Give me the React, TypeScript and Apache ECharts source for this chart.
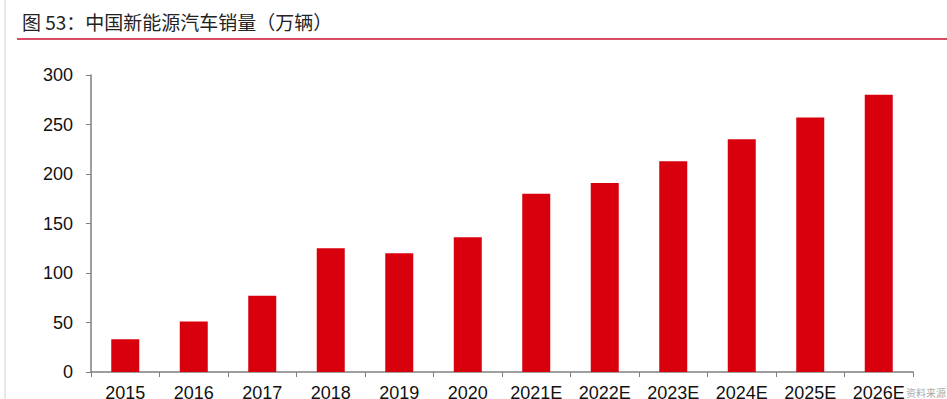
import React, { useEffect, useRef } from "react";
import * as echarts from "echarts";

const categories = ["2015", "2016", "2017", "2018", "2019", "2020", "2021E", "2022E", "2023E", "2024E", "2025E", "2026E"];
const sales = [33, 51, 77, 125, 120, 136, 180, 191, 213, 235, 257, 280];
const yTicks = { min: 0, max: 300, interval: 50 };
const titleText = "图 53：中国新能源汽车销量（万辆）";
const sourceText = "资料来源";

export default function App() {
  const ref = useRef<HTMLDivElement>(null);
  useEffect(() => {
    if (!ref.current) return;
    const chart = echarts.init(ref.current, undefined, { renderer: "svg" });
    chart.setOption({
      animation: false,
      backgroundColor: "#ffffff",
      graphic: [
        { type: "line", shape: { x1: 5, y1: 0, x2: 5, y2: 399 }, style: { stroke: "#d0d0d0", lineWidth: 1 } },
        { type: "line", shape: { x1: 17, y1: 39, x2: 947, y2: 39 }, style: { stroke: "#c8102e", lineWidth: 1.5 } },
        {
          type: "text",
          left: 22,
          top: 12,
          style: { text: titleText, font: "19px 'Noto Sans CJK SC', sans-serif", fill: "#222" },
        },
        {
          type: "text",
          left: 906,
          top: 387,
          style: { text: sourceText, font: "10px 'Noto Sans CJK SC', sans-serif", fill: "#aaa" },
        },
      ],
      grid: { left: 91, right: 34, top: 75, bottom: 27, containLabel: false, outerBoundsMode: "none" },
      xAxis: {
        type: "category",
        data: categories,
        axisLine: { lineStyle: { color: "#7f7f7f", width: 1.5 } },
        axisTick: { show: true, alignWithLabel: false, length: 5, lineStyle: { color: "#7f7f7f" } },
        axisLabel: { color: "#111", fontSize: 18, fontFamily: "'Liberation Sans', Arial, sans-serif", margin: 12, interval: 0 },
      },
      yAxis: {
        type: "value",
        min: yTicks.min,
        max: yTicks.max,
        interval: yTicks.interval,
        axisLine: { show: true, lineStyle: { color: "#7f7f7f", width: 1.5 } },
        axisTick: { show: true, length: 5, lineStyle: { color: "#7f7f7f" } },
        splitLine: { show: false },
        axisLabel: { color: "#111", fontSize: 18, fontFamily: "'Liberation Sans', Arial, sans-serif", margin: 18 },
      },
      series: [
        {
          type: "bar",
          data: sales,
          barWidth: 28,
          itemStyle: { color: "#d9000d" },
        },
      ],
    });
    return () => chart.dispose();
  }, []);
  return <div ref={ref} style={{ width: 947, height: 399, position: "absolute", left: 0, top: 0 }} />;
}
